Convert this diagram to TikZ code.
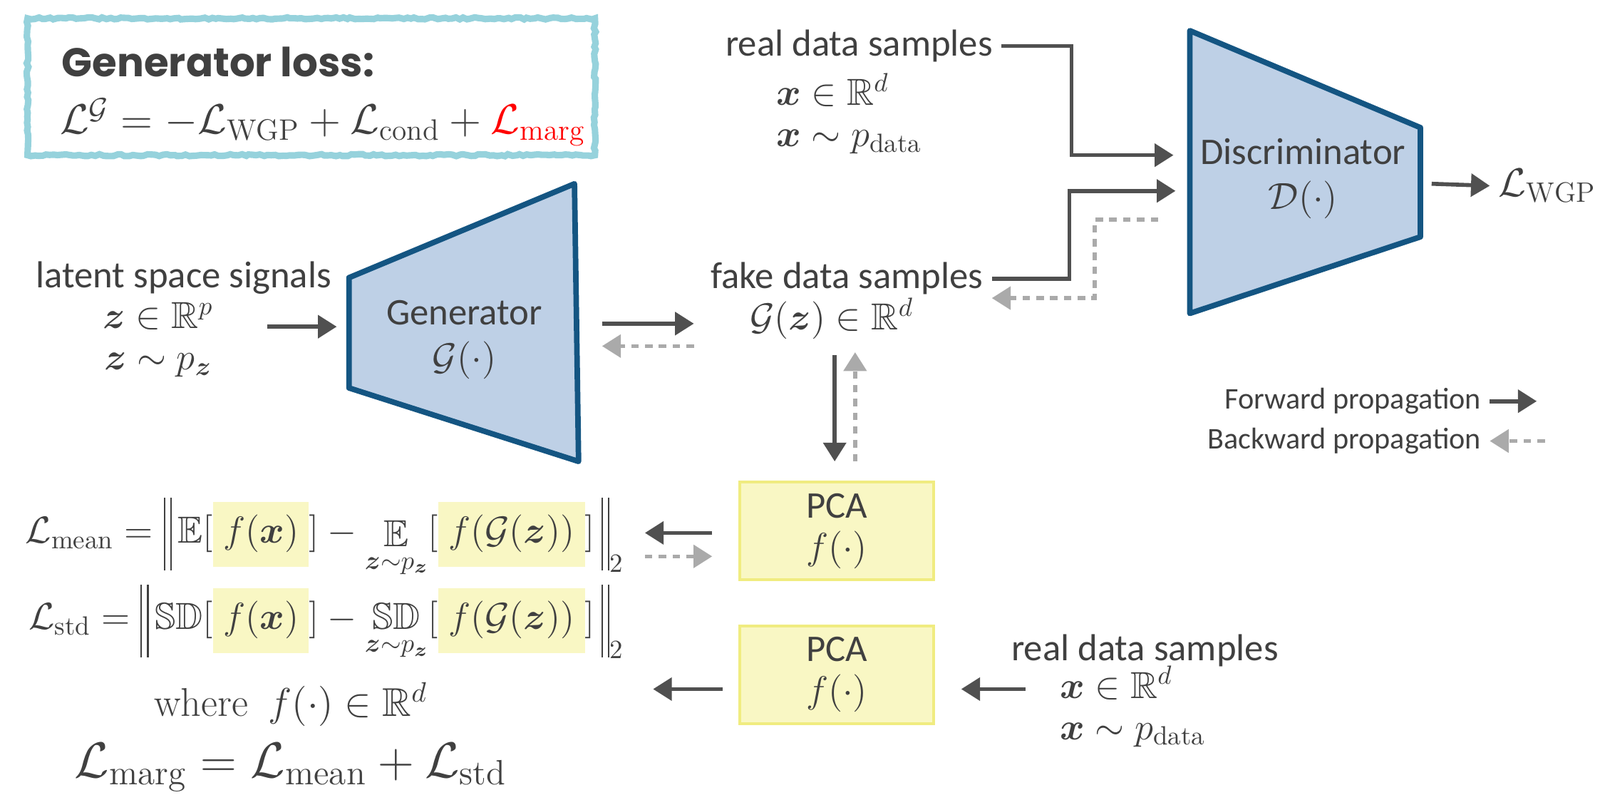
\RequirePackage{fix-cm}
\documentclass[tikz,border=0pt]{standalone}
\usepackage{amsmath}
\usepackage{amssymb}
\usepackage{fontspec}
\usetikzlibrary{arrows.meta,decorations.pathmorphing}

\newfontfamily\calib{Carlito}
\newfontfamily\popfont{Poppins}

\definecolor{txtgrey}{RGB}{64,64,64}
\definecolor{fwdgrey}{RGB}{80,80,80}
\definecolor{bwdgrey}{RGB}{170,170,170}
\definecolor{netblue}{RGB}{20,85,130}
\definecolor{netfill}{RGB}{190,208,230}
\definecolor{pcaline}{RGB}{240,236,128}
\definecolor{pcafill}{RGB}{249,247,196}
\definecolor{losscyan}{RGB}{150,210,220}

\newcommand\lblsize{\fontsize{15}{18}\selectfont}
\newcommand\hlpca[1]{{\setlength{\fboxsep}{4pt}\colorbox{pcafill}{\rule[-5.5pt]{0pt}{18pt}$#1$}}}
\newcommand\normbar{\mathord{\rule[-11pt]{0.6pt}{29pt}\hspace{2pt}\rule[-11pt]{0.6pt}{29pt}}}

\begin{document}
\begin{tikzpicture}[x=0.01432cm, y=0.01432cm,
    lbl/.style={text=txtgrey, font=\calib\lblsize, align=center},
    mth/.style={text=txtgrey, font=\fontsize{15}{16.5}\selectfont, align=center},
    fwd/.style={draw=fwdgrey, line width=1.6pt, -{Triangle[length=7.5pt,width=9pt]}},
    bwd/.style={draw=bwdgrey, line width=1.6pt, dash pattern=on 3pt off 2.5pt, -{Triangle[length=7.5pt,width=9pt]}},
    net/.style={draw=netblue, fill=netfill, line width=2.2pt, line join=round},
    pcabox/.style={lbl, draw=pcaline, fill=pcafill, line width=1.2pt, minimum width=2.72cm, minimum height=1.37cm,
      font=\calib\fontsize{15}{16.5}\selectfont}]
  \useasboundingbox (0,0) rectangle (1568,-783);

  % loss box
  \draw[draw=losscyan, line width=2.6pt, decorate,
    decoration={random steps, segment length=1.5pt, amplitude=0.4pt}] (27,-18) rectangle (583,-152);
  \node[anchor=west, text=txtgrey, font=\popfont\bfseries\fontsize{16}{19}\selectfont] (losstitle) at (52,-61) {Generator loss:};
  \node[anchor=west, text=txtgrey, font=\fontsize{16.8}{19}\selectfont] (lossform) at (50,-120)
    {$\mathcal{L}^{\mathcal{G}} = -\mathcal{L}_{\mathrm{WGP}} + \mathcal{L}_{\mathrm{cond}} + {\color{red}\mathcal{L}_{\mathrm{marg}}}$};

  % generator
  \draw[net] (342,-272) -- (563,-180) -- (567,-452) -- (342,-380) -- cycle;
  \node[lbl] (gen) at (455,-333) {Generator\\$\mathcal{G}(\cdot)$};
  \node[lbl] (latent) at (180,-272) {latent space signals};
  \node[mth] (zin) at (155,-333) {$\boldsymbol{z}\in\mathbb{R}^p$\\$\boldsymbol{z}\sim p_{\boldsymbol{z}}$};
  \coordinate (zout) at (262,-320);
  \coordinate (genin) at (330,-320);
  \draw[fwd] (zout) -- (genin);

  % fake samples
  \node[lbl] (fake) at (830,-273) {fake data samples};
  \node[mth] (fakez) at (815,-312) {$\mathcal{G}(\boldsymbol{z})\in\mathbb{R}^d$};
  \coordinate (genout) at (590,-317);
  \coordinate (fakein) at (680,-317);
  \coordinate (fakeback) at (680,-339);
  \coordinate (genback) at (590,-339);
  \draw[fwd] (genout) -- (fakein);
  \draw[bwd] (fakeback) -- (genback);

  % discriminator
  \draw[net] (1166,-30) -- (1392,-125) -- (1392,-232) -- (1166,-307) -- cycle;
  \node[lbl] (disc) at (1277,-175) {Discriminator\\$\mathcal{D}(\cdot)$};
  \node[lbl] (realtop) at (842,-45) {real data samples};
  \node[mth, anchor=west, align=left] (xtop) at (752,-111) {$\boldsymbol{x}\in\mathbb{R}^d$\\$\boldsymbol{x}\sim p_{\mathrm{data}}$};
  \coordinate (discreal) at (1150,-152);
  \coordinate (discfake) at (1152,-187);
  \coordinate (discback) at (1135,-215);
  \coordinate (fakeret) at (972,-292);
  \draw[fwd] (realtop) -| (1050,-152) -- (discreal);
  \draw[fwd] (fake) -| (1048,-187) -- (discfake);
  \draw[bwd] (discback) -| (1073,-292) -- (fakeret);
  \node[mth, anchor=west, font=\fontsize{16}{19}\selectfont] (lwgp) at (1460,-182) {$\mathcal{L}_{\mathrm{WGP}}$};
  \coordinate (discout) at (1403,-180);
  \draw[fwd] (discout) -- (lwgp.west);

  % legend
  \node[lbl, anchor=east, font=\calib\fontsize{12}{14}\selectfont] (fwdkey) at (1460,-393) {Forward propagation};
  \node[lbl, anchor=east, font=\calib\fontsize{12}{14}\selectfont] (bwdkey) at (1460,-432) {Backward propagation};
  \path (fwdkey.east) ++(46,0) coordinate (fwdkeyend);
  \path (bwdkey.east) ++(54,0) coordinate (bwdkeyend);
  \draw[fwd] (fwdkey.east) -- (fwdkeyend);
  \draw[bwd] (bwdkeyend) -- (bwdkey.east);

  % PCA boxes
  \node[pcabox] (pcafake) at (820,-520) {PCA\\$f(\cdot)$};
  \node[pcabox] (pcareal) at (820,-661) {PCA\\$f(\cdot)$};
  \coordinate (fzdown) at (818,-348);
  \coordinate (pcain) at (818,-452);
  \coordinate (pcaup) at (838,-452);
  \coordinate (fzup) at (838,-345);
  \draw[fwd] (fzdown) -- (pcain);
  \draw[bwd] (pcaup) -- (fzup);
  \coordinate (pcaout1) at (698,-522);
  \coordinate (meanin) at (632,-522);
  \coordinate (meanback) at (632,-545);
  \coordinate (pcaback) at (698,-545);
  \draw[fwd] (pcaout1) -- (meanin);
  \draw[bwd] (meanback) -- (pcaback);
  \coordinate (pcaout2) at (708,-675);
  \coordinate (stdin) at (640,-675);
  \coordinate (realout) at (1005,-675);
  \coordinate (pcain2) at (942,-675);
  \draw[fwd] (pcaout2) -- (stdin);
  \draw[fwd] (realout) -- (pcain2);
  \node[lbl] (realbot) at (1122,-637) {real data samples};
  \node[mth, anchor=west, align=left] (xbot) at (1030,-692) {$\boldsymbol{x}\in\mathbb{R}^d$\\$\boldsymbol{x}\sim p_{\mathrm{data}}$};

  % marginal loss
  \node[mth, anchor=east] (lmean) at (620,-527)
    {$\mathcal{L}_{\mathrm{mean}} = \normbar\,\mathbb{E}[\hlpca{f(\boldsymbol{x})}] - \mathop{\mathbb{E}}\limits_{\boldsymbol{z}\sim p_{\boldsymbol{z}}}[\hlpca{f(\mathcal{G}(\boldsymbol{z}))}]\,\normbar_2$};
  \node[mth, anchor=east] (lstd) at (620,-610)
    {$\mathcal{L}_{\mathrm{std}} = \normbar\,\mathbb{SD}[\hlpca{f(\boldsymbol{x})}] - \mathop{\mathbb{SD}}\limits_{\boldsymbol{z}\sim p_{\boldsymbol{z}}}[\hlpca{f(\mathcal{G}(\boldsymbol{z}))}]\,\normbar_2$};
  \node[mth, font=\fontsize{16}{19}\selectfont] (where) at (285,-690) {$\text{where}\enspace f(\cdot)\in\mathbb{R}^d$};
  \node[mth, font=\fontsize{20}{24}\selectfont] (lmarg) at (285,-752) {$\mathcal{L}_{\mathrm{marg}} = \mathcal{L}_{\mathrm{mean}} + \mathcal{L}_{\mathrm{std}}$};
\end{tikzpicture}
\end{document}
